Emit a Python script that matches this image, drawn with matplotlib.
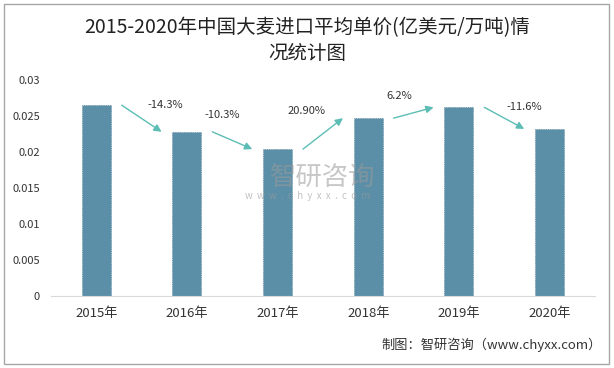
import matplotlib
matplotlib.use('Agg')
import matplotlib.pyplot as plt
from matplotlib.patches import Rectangle

plt.rcParams['font.family'] = ['Noto Sans CJK SC', 'DejaVu Sans']

# data
years = ['2015年', '2016年', '2017年', '2018年', '2019年', '2020年']
prices = [0.0265, 0.0228, 0.0204, 0.0247, 0.0262, 0.0232]
growth = ['-14.3%', '-10.3%', '20.90%', '6.2%', '-11.6%']

# where each growth label sits (x in category units, y in data units)
label_x = [0.76, 1.39, 2.32, 3.34, 4.72]
label_y = [0.0265, 0.0251, 0.0257, 0.0278, 0.0262]

bar_color = '#5b8fa8'
arrow_color = '#5cbdb5'

fig = plt.figure(figsize=(6.14, 3.68), dpi=100)
ax = fig.add_axes([0.083, 0.1957, 0.886, 0.587])

x = range(len(years))
ax.bar(x, prices, width=0.32, color=bar_color, edgecolor='#4a7a92',
       linewidth=0.5, linestyle=':')

# growth arrows between bar tops
for i in range(len(growth)):
    ax.annotate('', xy=(i + 0.72, prices[i + 1]), xytext=(i + 0.28, prices[i]),
                arrowprops=dict(arrowstyle='-|>', color=arrow_color, lw=1.0,
                                mutation_scale=11, shrinkA=0, shrinkB=0))
    ax.text(label_x[i], label_y[i], growth[i], ha='center', va='center',
            fontsize=8, color='#333333')

ax.set_xlim(-0.5, 5.5)
ax.set_ylim(0, 0.03)
ax.set_xticks(list(x))
ax.set_xticklabels(years, fontsize=9.5, color='#333333')
ax.set_yticks([0, 0.005, 0.01, 0.015, 0.02, 0.025, 0.03])
ax.set_yticklabels(['0', '0.005', '0.01', '0.015', '0.02', '0.025', '0.03'],
                   fontsize=8, color='#333333')
ax.tick_params(axis='both', length=0)
ax.tick_params(axis='x', pad=8)
ax.tick_params(axis='y', pad=8)
for s in ['top', 'right', 'left']:
    ax.spines[s].set_visible(False)
ax.spines['bottom'].set_color('#d9d9d9')

# watermark
fig.text(0.526, 0.519, '智研咨询', fontsize=19, color='#9a9a9a', alpha=0.55,
         ha='center', va='center')
fig.text(0.501, 0.467, 'w  w  w  .  c  h  y  x  x  .  c  o  m', fontsize=7,
         color='#9a9a9a', alpha=0.6, ha='center', va='center')

# title
fig.text(0.5, 0.925, '2015-2020年中国大麦进口平均单价(亿美元/万吨)情', fontsize=14,
         ha='center', va='center', color='#222222')
fig.text(0.5, 0.855, '况统计图', fontsize=14, ha='center', va='center', color='#222222')

# source
fig.text(0.98, 0.063, '制图：智研咨询（www.chyxx.com）', fontsize=9.5,
         ha='right', va='center', color='#333333')

# outer border
fig.patches.append(Rectangle((0.007, 0.01), 0.985, 0.98, transform=fig.transFigure,
                             fill=False, edgecolor='#a6a6a6', linewidth=1))

fig.savefig('out.png', dpi=100)
